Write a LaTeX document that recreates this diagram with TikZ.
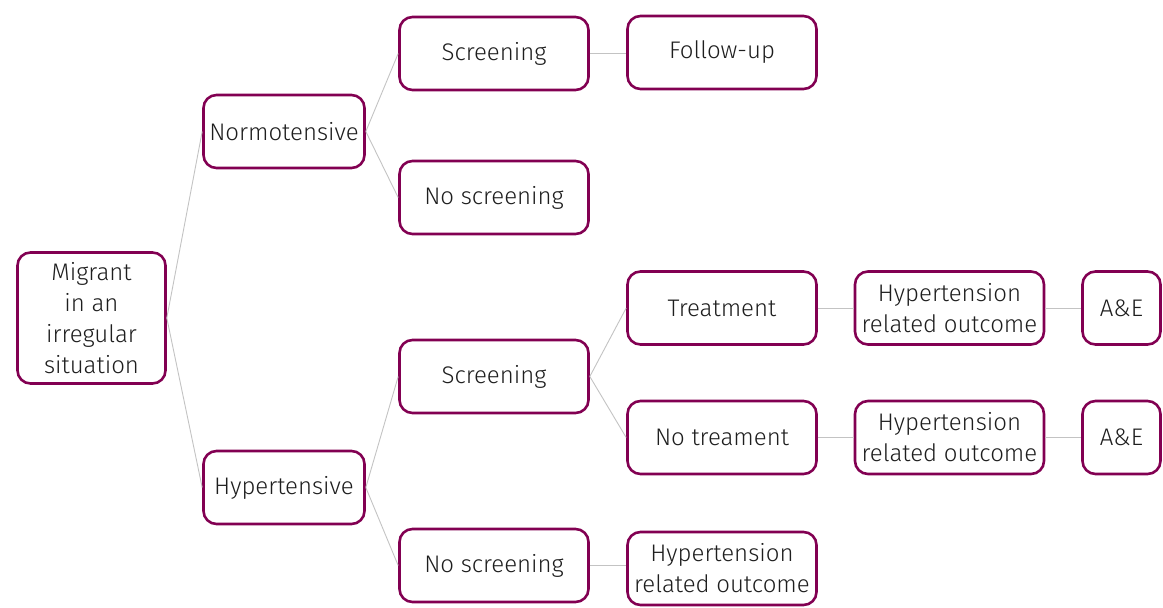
\documentclass[tikz,border=0pt]{standalone}
\usepackage{fontspec}
\setmainfont{Fira Sans}[UprightFont=* Light]
\definecolor{boxborder}{RGB}{130,0,82}
\definecolor{txt}{RGB}{30,30,30}
\definecolor{conn}{RGB}{195,195,195}
\begin{document}
\begin{tikzpicture}[x=1pt,y=-1pt,
  box/.style={draw=boxborder,line width=2.6pt,rounded corners=13pt,fill=white,
    text=txt,align=center,inner sep=0pt,font=\fontsize{24}{31}\selectfont},
  wbox/.style={box,minimum width=189pt,minimum height=73pt},
  mbox/.style={box,minimum width=161pt,minimum height=73pt},
  link/.style={draw=conn,line width=0.9pt}]
\useasboundingbox (0,0) rectangle (1163,608);
\node[box,minimum width=148pt,minimum height=131pt] (mig) at (91.5,318) {Migrant\\in an\\irregular\\situation};
\node[mbox] (norm) at (284,131.5) {Normotensive};
\node[mbox] (hyp) at (284,487.5) {Hypertensive};
\node[wbox] (scr1) at (494,53.5) {Screening};
\node[wbox] (nos1) at (494,197.5) {No screening};
\node[wbox] (fol) at (722,52.5) {Follow-up};
\node[wbox] (scr2) at (494,376.5) {Screening};
\node[wbox] (nos2) at (494,565.5) {No screening};
\node[wbox] (trt) at (722,308) {Treatment};
\node[wbox] (notrt) at (722,437.5) {No treament};
\node[wbox] (hro1) at (949.5,308) {Hypertension\\related outcome};
\node[wbox] (hro2) at (949.5,437.5) {Hypertension\\related outcome};
\node[wbox] (hro3) at (722,568.5) {Hypertension\\related outcome};
\node[box,minimum width=78pt,minimum height=73pt] (ae1) at (1121.5,308) {A\&E};
\node[box,minimum width=78pt,minimum height=73pt] (ae2) at (1121.5,437.5) {A\&E};
\draw[link] (mig.east) -- (norm.west);
\draw[link] (mig.east) -- (hyp.west);
\draw[link] (norm.east) -- (scr1.west);
\draw[link] (norm.east) -- (nos1.west);
\draw[link] (scr1.east) -- (scr1.east -| fol.west);
\draw[link] (hyp.east) -- (scr2.west);
\draw[link] (hyp.east) -- (nos2.west);
\draw[link] (scr2.east) -- (trt.west);
\draw[link] (scr2.east) -- (notrt.west);
\draw[link] (trt.east) -- (hro1.west);
\draw[link] (notrt.east) -- (hro2.west);
\draw[link] (hro1.east) -- (ae1.west);
\draw[link] (hro2.east) -- (ae2.west);
\draw[link] (nos2.east) -- (nos2.east -| hro3.west);
\end{tikzpicture}
\end{document}
